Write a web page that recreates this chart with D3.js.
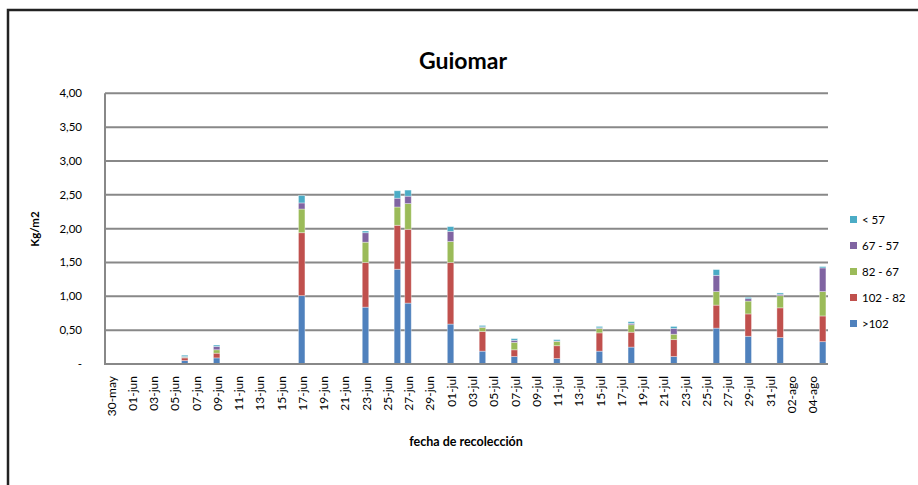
<!DOCTYPE html>
<html>
<head>
<meta charset="utf-8">
<script src="https://cdn.jsdelivr.net/npm/d3@7"></script>
<style>
  body { margin: 0; background: #fff; }
  svg { font-family: Lato, "Open Sans", sans-serif; }
</style>
</head>
<body>
<svg width="918" height="485"></svg>
<script>
// harvest dates with data (day-month)
var fechas = ["06-jun", "09-jun", "17-jun", "23-jun", "26-jun", "27-jun", "01-jul", "04-jul",
  "07-jul", "11-jul", "15-jul", "18-jul", "22-jul", "26-jul", "29-jul", "01-ago", "05-ago"];

// Kg/m2 per size class
var mayor102 = [0.05, 0.09, 1.01, 0.84, 1.40, 0.90, 0.59, 0.19, 0.11, 0.08, 0.19, 0.25, 0.11, 0.53, 0.41, 0.39, 0.33];
var de102a82 = [0.04, 0.07, 0.93, 0.66, 0.65, 1.09, 0.91, 0.29, 0.10, 0.19, 0.27, 0.22, 0.25, 0.34, 0.33, 0.44, 0.38];
var de82a67 = [0.01, 0.05, 0.35, 0.30, 0.27, 0.38, 0.31, 0.06, 0.11, 0.065, 0.065, 0.11, 0.08, 0.20, 0.19, 0.18, 0.36];
var de67a57 = [0.01, 0.05, 0.09, 0.14, 0.13, 0.11, 0.15, 0.01, 0.03, 0.005, 0.01, 0.02, 0.085, 0.24, 0.035, 0.02, 0.35];
var menor57 = [0.02, 0.02, 0.11, 0.025, 0.11, 0.09, 0.07, 0.02, 0.025, 0.02, 0.02, 0.025, 0.03, 0.085, 0.02, 0.02, 0.02];

var seriesNames = [">102", "102 - 82", "82 - 67", "67 - 57", "< 57"];
var seriesColors = ["#4F81BD", "#C0504D", "#9BBB59", "#8064A2", "#4BACC6"];
var yTicks = [0, 0.5, 1, 1.5, 2, 2.5, 3, 3.5, 4];

var meses = { 5: "may", 6: "jun", 7: "jul", 8: "ago" };
function fmtDia(d) {
  return d3.timeFormat("%d")(d) + "-" + meses[d.getMonth() + 1];
}

// every day from 30-may to 05-ago
var dias = d3.timeDay.range(new Date(2011, 4, 30), new Date(2011, 7, 6)).map(fmtDia);

var rows = fechas.map(function(f, i) {
  return { fecha: f, ">102": mayor102[i], "102 - 82": de102a82[i], "82 - 67": de82a67[i],
    "67 - 57": de67a57[i], "< 57": menor57[i] };
});

var svg = d3.select("svg");
var plot = { left: 105, right: 828, top: 93.3, bottom: 364 };

var x = d3.scaleBand().domain(dias).range([plot.left, plot.right])
  .paddingInner(0.39).paddingOuter(0.195);
var y = d3.scaleLinear().domain([0, 4]).range([plot.bottom, plot.top]);
var color = d3.scaleOrdinal().domain(seriesNames).range(seriesColors);

// outer frame (left and top only)
svg.append("path")
  .attr("d", "M8,485 V10 H918")
  .attr("fill", "none")
  .attr("stroke", "#222")
  .attr("stroke-width", 2.5);

// gridlines
svg.append("g")
  .selectAll("line")
  .data(yTicks)
  .join("line")
  .attr("x1", plot.left).attr("x2", plot.right)
  .attr("y1", function(d) { return y(d); })
  .attr("y2", function(d) { return y(d); })
  .attr("stroke", "#888")
  .attr("stroke-width", 2);

// left axis line
svg.append("line")
  .attr("x1", plot.left).attr("x2", plot.left)
  .attr("y1", plot.top).attr("y2", plot.bottom + 1)
  .attr("stroke", "#888").attr("stroke-width", 2);

var yFmt = d3.format(".2f");
svg.append("g")
  .selectAll("text")
  .data(yTicks)
  .join("text")
  .attr("x", 82)
  .attr("y", function(d) { return y(d) + 4; })
  .attr("text-anchor", "end")
  .attr("font-size", 11.5)
  .attr("fill", "#000")
  .text(function(d) { return d === 0 ? "-" : yFmt(d).replace(".", ","); });

// stacked bars
var stack = d3.stack().keys(seriesNames);
var stacked = stack(rows);

svg.append("g")
  .selectAll("g")
  .data(stacked)
  .join("g")
  .attr("fill", function(d) { return color(d.key); })
  .selectAll("rect")
  .data(function(d) { return d; })
  .join("rect")
  .attr("x", function(d) { return x(d.data.fecha); })
  .attr("width", x.bandwidth())
  .attr("y", function(d) { return y(d[1]); })
  .attr("height", function(d) { return y(d[0]) - y(d[1]); })
  .attr("stroke", "rgba(255,255,255,0.45)")
  .attr("stroke-width", 0.8);

// x labels every 2 days
var xAxis = d3.axisBottom(x)
  .tickValues(dias.filter(function(d, i) { return i % 2 === 0; }))
  .tickSize(0)
  .tickPadding(0);

var gx = svg.append("g")
  .attr("transform", "translate(0," + plot.bottom + ")")
  .call(xAxis);
gx.select(".domain").remove();
gx.selectAll("text")
  .attr("font-family", "Lato, 'Open Sans', sans-serif")
  .attr("font-size", 12)
  .attr("fill", "#000")
  .attr("transform", "rotate(-90)")
  .attr("text-anchor", "end")
  .attr("x", -12)
  .attr("y", 1)
  .attr("dy", "0.35em");

// bottom axis line drawn over the bars
svg.append("line")
  .attr("x1", plot.left).attr("x2", plot.right)
  .attr("y1", plot.bottom).attr("y2", plot.bottom)
  .attr("stroke", "#888").attr("stroke-width", 2);

// title
svg.append("text")
  .attr("x", 463).attr("y", 69)
  .attr("text-anchor", "middle")
  .attr("font-size", 23)
  .attr("font-weight", "bold")
  .text("Guiomar");

svg.append("text")
  .attr("transform", "translate(39,229) rotate(-90)")
  .attr("text-anchor", "middle")
  .attr("font-size", 11.5)
  .attr("font-weight", "bold")
  .text("Kg/m2");

svg.append("text")
  .attr("x", 466).attr("y", 446)
  .attr("text-anchor", "middle")
  .attr("font-size", 12.5)
  .attr("font-weight", "bold")
  .text("fecha de recolección");

// legend, top item is the last series
var legend = svg.append("g")
  .selectAll("g")
  .data(seriesNames.slice().reverse())
  .join("g")
  .attr("transform", function(d, i) { return "translate(850," + (220 + i * 26) + ")"; });

legend.append("rect")
  .attr("x", 0).attr("y", -4)
  .attr("width", 7).attr("height", 7)
  .attr("fill", function(d) { return color(d); });

legend.append("text")
  .attr("x", 12).attr("y", 4)
  .attr("font-size", 11.5)
  .text(function(d) { return d; });
</script>
</body>
</html>
